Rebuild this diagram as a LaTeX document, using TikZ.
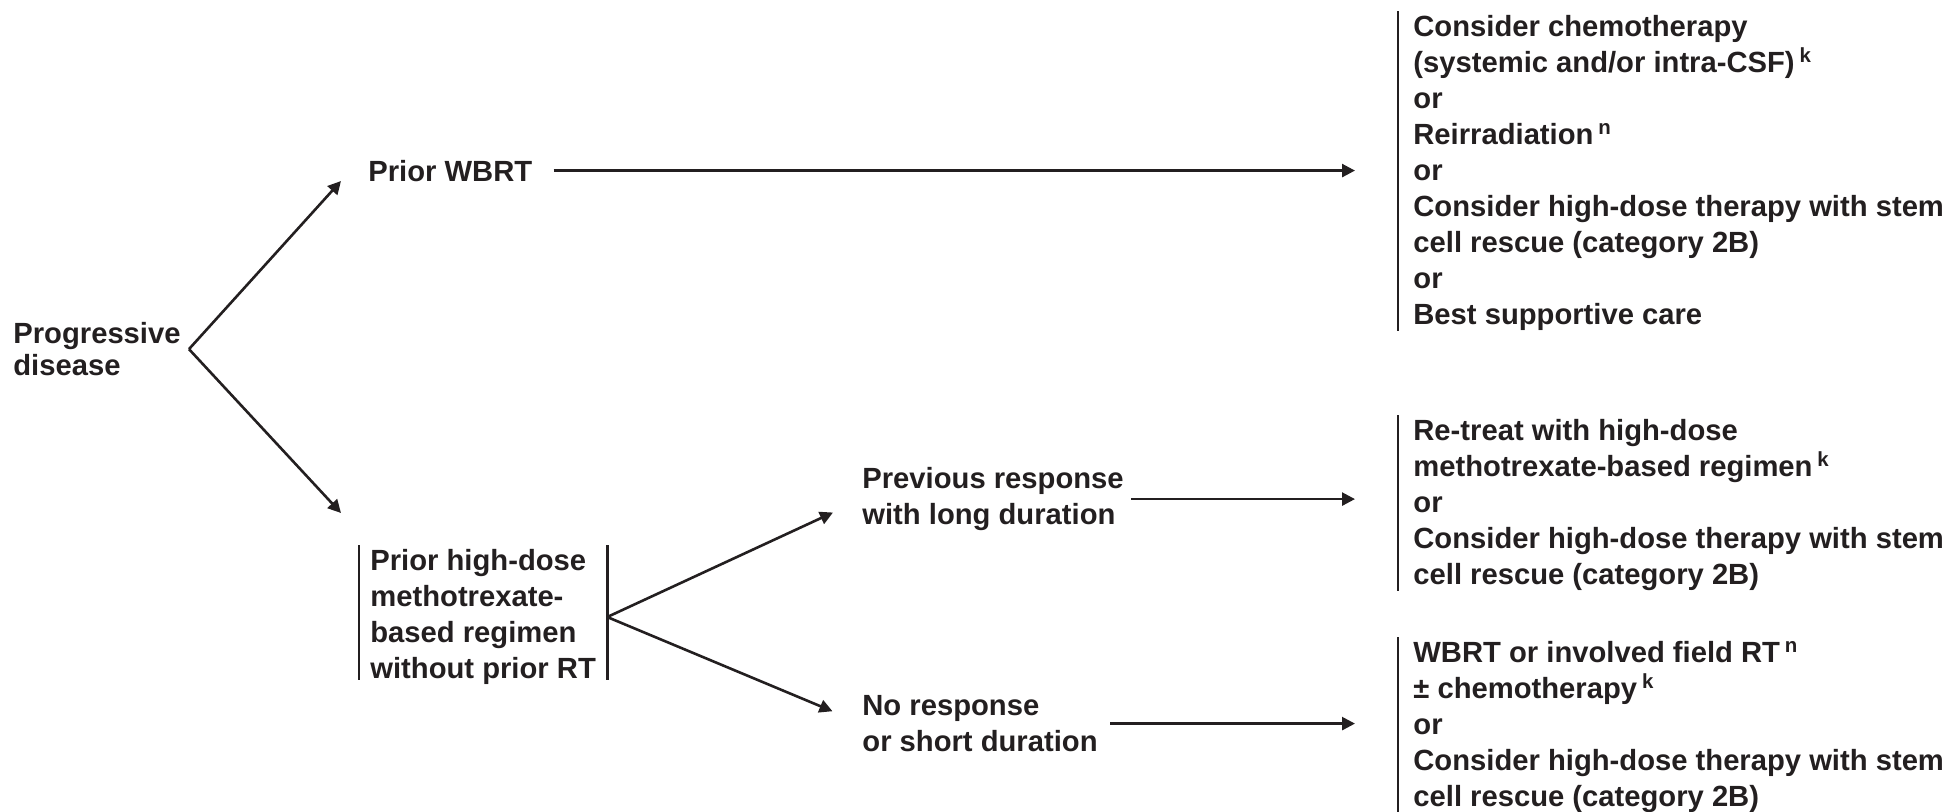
\documentclass[tikz,border=0pt]{standalone}
\usepackage{fontspec}
\setmainfont{Liberation Sans}
\usepackage{xcolor}
\definecolor{ink}{HTML}{231F20}
\usetikzlibrary{arrows.meta}

\begin{document}
\begin{tikzpicture}[
  x=0.5pt, y=-0.5pt,
  lbl/.style={align=left,inner sep=0pt,text=ink,font=\fontsize{14.6pt}{18pt}\selectfont\bfseries},
  opts/.style={lbl,inner xsep=7.5pt,anchor=north west},
  arrow/.style={-{Triangle[length=6.5pt,width=6.5pt]},line width=1.3pt,draw=ink},
  bar/.style={line width=1.3pt,draw=ink}
]
  \useasboundingbox (0,0) rectangle (1950,811);

  % Decision nodes
  \node[lbl,font=\fontsize{14.6pt}{16pt}\selectfont\bfseries,inner xsep=4pt,anchor=north west] (pd) at (5,322) {Progressive\\disease};
  \node[lbl,anchor=base west] (wbrt) at (368,181) {Prior WBRT};
  \node[lbl,inner xsep=5.5pt,anchor=north west] (box) at (359,549) {Prior high-dose\\methotrexate-\\based regimen\\without prior RT};
  \node[lbl,anchor=north west] (prev) at (862,467) {Previous response\\with long duration};
  \node[lbl,anchor=north west] (nores) at (862,695) {No response\\or short duration};

  % Treatment options
  \node[opts] (o1) at (1398,15) {Consider chemotherapy\\(systemic and/or intra-CSF)\,\textsuperscript{k}\\or\\Reirradiation\,\textsuperscript{n}\\or\\Consider high-dose therapy with stem\\cell rescue (category 2B)\\or\\Best supportive care};
  \node[opts] (o2) at (1398,419) {Re-treat with high-dose\\methotrexate-based regimen\,\textsuperscript{k}\\or\\Consider high-dose therapy with stem\\cell rescue (category 2B)};
  \node[opts] (o3) at (1398,641) {WBRT or involved field RT\,\textsuperscript{n}\\± chemotherapy\,\textsuperscript{k}\\or\\Consider high-dose therapy with stem\\cell rescue (category 2B)};

  % Bars
  \draw[bar] ([yshift=2pt]o1.north west) -- (o1.south west);
  \draw[bar] ([yshift=2pt]o2.north west) -- (o2.south west);
  \draw[bar] ([yshift=2pt]o3.north west) -- (o3.south west);
  \draw[bar] ([yshift=2pt]box.north west) -- ([yshift=2.5pt]box.south west);
  \draw[bar] ([yshift=2pt]box.north east) -- ([yshift=2.5pt]box.south east);

  % Arrows
  \coordinate (tipA) at (341,181);
  \coordinate (tipB) at (341,513);
  \draw[arrow] (pd.east) -- (tipA);
  \draw[arrow] (pd.east) -- (tipB);
  \draw[arrow,shorten <=10.5pt,shorten >=21.5pt] (wbrt.east) -- (wbrt.east -| o1.west);
  \draw[arrow,shorten >=16pt] (box.east) -- (prev.west);
  \draw[arrow,shorten >=16pt] (box.east) -- (nores.west);
  \draw[arrow,shorten <=3.5pt,shorten >=21.5pt] (prev.east) -- (prev.east -| o2.west);
  \draw[arrow,shorten <=6pt,shorten >=21.5pt] (nores.east) -- (nores.east -| o3.west);
\end{tikzpicture}
\end{document}
